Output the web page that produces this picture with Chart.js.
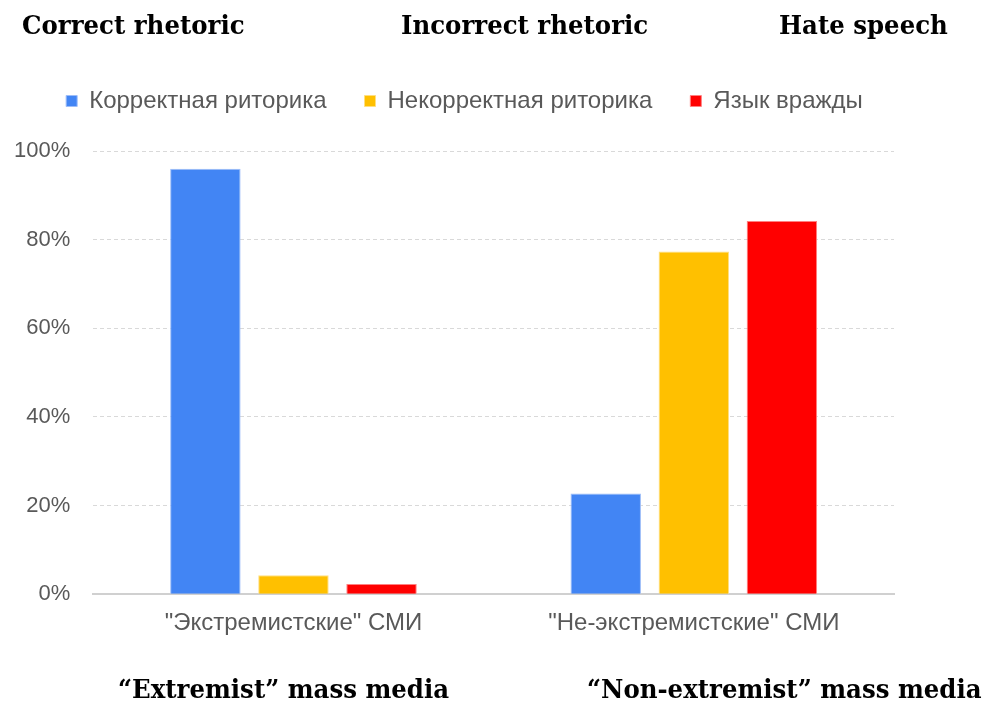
<!DOCTYPE html>
<html>
<head>
<meta charset="utf-8">
<script src="https://cdn.jsdelivr.net/npm/chart.js@4.4.1/dist/chart.umd.min.js"></script>
<style>
  body { margin: 0; background: #fff; }
  #wrap { position: relative; width: 987px; height: 701px; }
  .cap {
    position: absolute;
    font-family: "DejaVu Serif", serif;
    font-weight: bold;
    font-size: 26px;
    line-height: 28px;
    color: #000;
    white-space: nowrap;
    transform: scaleX(0.94);
    transform-origin: left center;
  }
</style>
</head>
<body>
<div id="wrap">
  <canvas id="chart" width="987" height="701"></canvas>
  <div class="cap" style="left:22px;top:11px">Correct rhetoric</div>
  <div class="cap" style="left:401px;top:11px">Incorrect rhetoric</div>
  <div class="cap" style="left:779px;top:11px">Hate speech</div>
  <div class="cap" style="left:118px;top:675px">“Extremist” mass media</div>
  <div class="cap" style="left:587px;top:675px">“Non-extremist” mass media</div>
</div>
<script>
Chart.defaults.font.family = '"Liberation Sans", Arial, sans-serif';
Chart.defaults.font.size = 22;
Chart.defaults.color = '#595959';

// media groups and the share of each rhetoric type, %
const categories = ['"Экстремистские" СМИ', '"Не-экстремистские" СМИ'];
const seriesNames = ['Корректная риторика', 'Некорректная риторика', 'Язык вражды'];
const correct = [96, 22.7];
const incorrect = [4.3, 77.3];
const hate = [2.3, 84.2];
const yTicks = [0, 20, 40, 60, 80, 100];

const colors = ['#4285F4', '#FFC000', '#FF0000'];
const edges = ['#9dbdf8', '#ffdf80', '#ff8080'];

const values = [correct, incorrect, hate];
const datasets = seriesNames.map((name, i) => ({
    label: name,
    data: values[i],
    backgroundColor: colors[i],
    borderColor: edges[i],
    borderWidth: 1,
    categoryPercentage: 0.66,
    barPercentage: 0.8
}));

// extra room under the legend, and nudge it a bit to the right
const legendGap = {
    id: 'legendGap',
    beforeInit(chart) {
        const fit = chart.legend.fit;
        chart.legend.fit = function () {
            fit.bind(chart.legend)();
            this.height += 28;
        };
    },
    afterLayout(chart) {
        chart.legend.left += 22;
        chart.legend.right += 22;
    }
};

new Chart(document.getElementById('chart'), {
    type: 'bar',
    data: { labels: categories, datasets: datasets },
    plugins: [legendGap],
    options: {
        responsive: false,
        animation: false,
        layout: { padding: { left: -9, right: 93, top: 51, bottom: 48 } },
        plugins: {
            legend: {
                position: 'top',
                labels: {
                    boxWidth: 11,
                    boxHeight: 11,
                    padding: 38,
                    color: '#595959',
                    font: { size: 24 }
                }
            },
            tooltip: { enabled: false }
        },
        scales: {
            x: {
                grid: { display: false, drawTicks: false },
                border: { display: true, color: '#d0d0d0', width: 2 },
                ticks: { padding: 15, font: { size: 24 } }
            },
            y: {
                min: 0,
                max: 100,
                afterBuildTicks(axis) {
                    axis.ticks = yTicks.map(v => ({ value: v }));
                },
                grid: { color: '#d9d9d9', lineWidth: 1, drawTicks: false },
                border: { display: false, dash: [4, 3] },
                ticks: {
                    padding: 23,
                    callback: v => v + '%'
                }
            }
        }
    }
});
</script>
</body>
</html>
